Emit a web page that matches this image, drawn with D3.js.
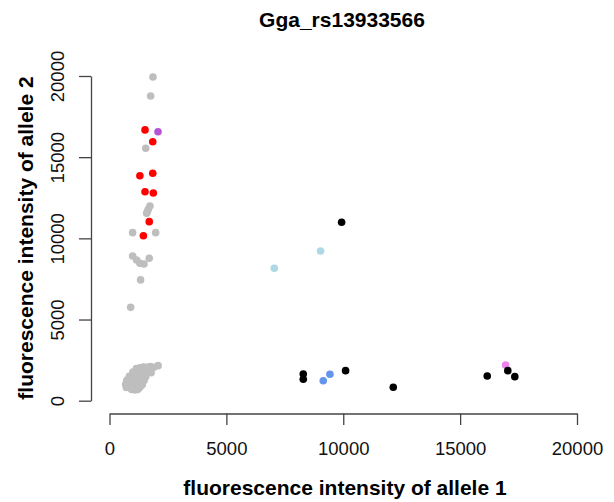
<!DOCTYPE html>
<html>
<head>
<meta charset="utf-8">
<script src="https://cdn.jsdelivr.net/npm/d3@7"></script>
<style>
  body { margin: 0; background: #fff; }
  text { font-family: "Liberation Sans", Arial, sans-serif; }
</style>
</head>
<body>
<div id="svgcontainer"></div>
<script>
// data
const title = "Gga_rs13933566";
const xLabel = "fluorescence intensity of allele 1";
const yLabel = "fluorescence intensity of allele 2";
const tickValues = [0, 5000, 10000, 15000, 20000];

// unassigned calls (gray)
const grayPoints = [
  [1860, 19940], [1760, 18770], [1550, 15550],
  [1730, 11990], [1660, 11790], [1590, 11540], [1620, 11650],
  [990, 10350], [1975, 10350],
  [990, 8910], [1160, 8670], [1300, 8460], [1475, 8420], [1700, 8770],
  [1330, 7440], [905, 5750],
  // low cluster
  [1150, 1980], [1300, 2030], [1450, 2080], [1600, 2060], [1750, 2100], [1900, 2060], [2080, 2160],
  [1000, 1760], [1200, 1760], [1350, 1820], [1500, 1790], [1650, 1800], [1780, 1720],
  [850, 1500], [950, 1540], [1100, 1500], [1250, 1560], [1400, 1510], [1550, 1480],
  [740, 1260], [880, 1240], [1030, 1280], [1180, 1230], [1330, 1270], [1480, 1250],
  [690, 1010], [830, 1000], [980, 1040], [1130, 990], [1280, 1020], [1400, 980],
  [720, 820], [880, 800], [1030, 840], [1180, 790], [1300, 830],
  [950, 690], [1100, 660], [1220, 700]
];
const redPoints = [
  [1520, 16680], [1850, 15950], [1300, 13860], [1850, 14010],
  [1520, 12870], [1875, 12790], [1700, 11030], [1450, 10160]
];
const purplePoints = [[2075, 16570]];
const lightbluePoints = [[9030, 9220], [7050, 8155]];
const bluePoints = [[9430, 1625], [9145, 1230]];
const violetPoints = [[16945, 2200]];
const blackPoints = [
  [9930, 10990], [8290, 1645], [8290, 1320], [10100, 1850], [12140, 825],
  [17040, 1850], [16160, 1520], [17340, 1480]
];

var svg = d3.select("#svgcontainer")
    .append("svg")
    .attr("width", 614)
    .attr("height", 502)

var x = d3.scaleLinear().domain([0, 20000]).range([109.5, 577]);
var y = d3.scaleLinear().domain([0, 20000]).range([400.7, 76]);

// x axis
var xAxis = svg.append('g')
    .attr('transform', 'translate(0, 413.5)')
    .call(d3.axisBottom(x).tickValues(tickValues).tickSize(11.5).tickSizeOuter(0).tickFormat(d3.format("d")))
xAxis.selectAll('text').attr('y', 41.5).attr('dy', 0).attr('font-size', 18.5).attr('fill', '#111')

// y axis, labels turned like R does
var yAxis = svg.append('g')
    .attr('transform', 'translate(91, 0)')
    .call(d3.axisLeft(y).tickValues(tickValues).tickSize(12).tickSizeOuter(0).tickFormat(d3.format("d")))
yAxis.selectAll('text')
    .attr('x', 0).attr('dy', 0)
    .attr('text-anchor', 'middle')
    .attr('transform', 'translate(-27.5, 0) rotate(-90)')
    .attr('font-size', 18.5).attr('fill', '#111')

svg.selectAll('.domain, .tick line').attr('stroke', '#444').attr('stroke-width', 1.3)

// points
function addPoints(data, color) {
  svg.append('g').selectAll('circle')
    .data(data).enter()
    .append('circle')
    .attr('cx', d => x(d[0]))
    .attr('cy', d => y(d[1]))
    .attr('r', 3.8)
    .attr('fill', color)
}
addPoints(grayPoints, '#bebebe')
addPoints(redPoints, '#ff0000')
addPoints(purplePoints, '#b455d6')
addPoints(lightbluePoints, '#add8e6')
addPoints(bluePoints, '#6495ed')
addPoints(violetPoints, '#ee82ee')
addPoints(blackPoints, '#000000')

// titles
svg.append('text').attr('x', 342).attr('y', 27)
    .attr('text-anchor', 'middle').attr('font-weight', 'bold').attr('font-size', 21)
    .text(title)
svg.append('text').attr('x', 345).attr('y', 495)
    .attr('text-anchor', 'middle').attr('font-weight', 'bold').attr('font-size', 21)
    .text(xLabel)
svg.append('text')
    .attr('transform', 'translate(33, 238) rotate(-90)')
    .attr('text-anchor', 'middle').attr('font-weight', 'bold').attr('font-size', 21)
    .text(yLabel)
</script>
</body>
</html>
